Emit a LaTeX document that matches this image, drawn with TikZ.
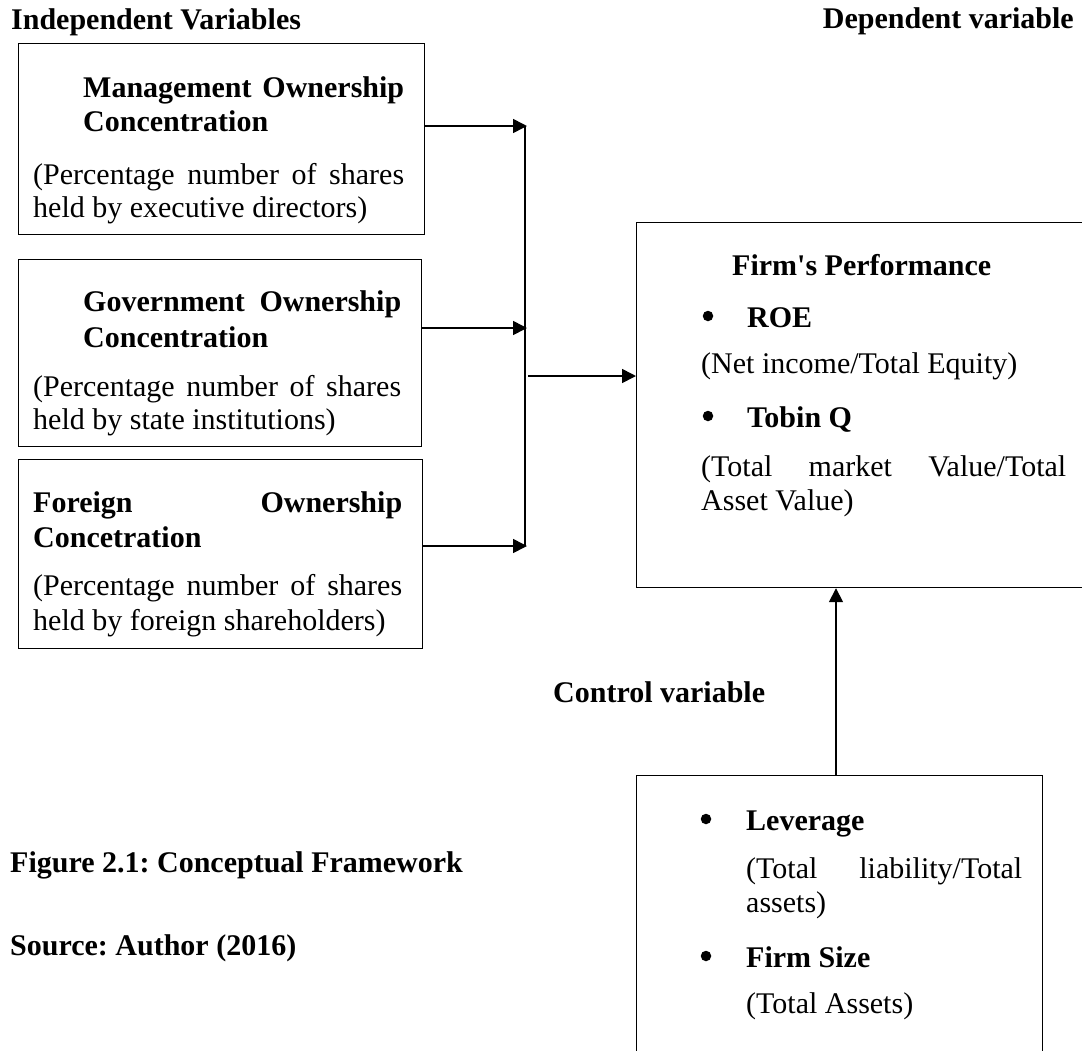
\documentclass[tikz,border=0pt]{standalone}
\usepackage{fontspec}
\setmainfont{Liberation Serif}
\usetikzlibrary{arrows.meta,calc}
\tikzset{
  boxst/.style={draw=black, line width=1.2pt, rectangle, inner sep=0pt, anchor=north west},
  arr/.style={draw=black, line width=1.6pt, -{Triangle[length=14pt,width=14pt]}},
  ln/.style={draw=black, line width=1.6pt},
  txt/.style={anchor=base west, inner sep=0pt, font=\fontsize{30}{34}\selectfont},
  btxt/.style={txt, font=\fontsize{30}{34}\selectfont\bfseries},
  bul/.style={circle, fill=black, inner sep=0pt, minimum size=10.5pt},
}
\begin{document}
\frenchspacing
\begin{tikzpicture}[x=1pt,y=-1pt]
\useasboundingbox (0,0) rectangle (1082,1050);
\clip (0,0) rectangle (1082,1050);
\fill[white] (0,0) rectangle (1082,1050);

% headings
\node[btxt] (indep) at (11,29) {Independent Variables};
\node[btxt, anchor=base east] (dep) at (1074,28) {Dependent variable};
\node[btxt] (ctrlvar) at (553,702) {Control variable};
\node[btxt] (figcap) at (10,872) {Figure 2.1: Conceptual Framework};
\node[btxt] (source) at (10,955) {Source: Author (2016)};

% box 1
\node[boxst, minimum width=406pt, minimum height=191pt] (b1) at (18,43) {};
\node[btxt] (b1h1) at (83,97) {\makebox[321pt][s]{Management Ownership}};
\node[btxt] (b1h2) at (83,131) {Concentration};
\node[txt] (b1p1) at (33,184) {\makebox[371pt][s]{(Percentage number of shares}};
\node[txt] (b1p2) at (33,217) {held by executive directors)};

% box 2
\node[boxst, minimum width=403pt, minimum height=187pt] (b2) at (18,259) {};
\node[btxt] (b2h1) at (83,311) {\makebox[318pt][s]{Government Ownership}};
\node[btxt] (b2h2) at (83,347) {Concentration};
\node[txt] (b2p1) at (33,396) {\makebox[368pt][s]{(Percentage number of shares}};
\node[txt] (b2p2) at (33,429) {held by state institutions)};

% box 3
\node[boxst, minimum width=404pt, minimum height=189pt] (b3) at (18,459) {};
\node[btxt] (b3h1) at (33,512) {\makebox[369pt][s]{Foreign Ownership}};
\node[btxt] (b3h2) at (33,547) {Concetration};
\node[txt] (b3p1) at (33,595) {\makebox[369pt][s]{(Percentage number of shares}};
\node[txt] (b3p2) at (33,630) {held by foreign shareholders)};

% firm performance box
\node[boxst, minimum width=470pt, minimum height=365pt] (firm) at (636,222) {};
\node[btxt] (fp) at (732,275) {Firm\textquotesingle s Performance};
\node[bul] (fb1) at (708,316) {};
\node[btxt] (roe) at (747,327) {ROE};
\node[txt] (roep) at (701,373) {(Net income/Total Equity)};
\node[bul] (fb2) at (708,416) {};
\node[btxt] (tobin) at (747,427) {Tobin Q};
\node[txt] (tobp1) at (701,476) {\makebox[365pt][s]{(Total market Value/Total}};
\node[txt] (tobp2) at (701,510) {Asset Value)};

% control box
\node[boxst, minimum width=406pt, minimum height=320pt] (ctrl) at (636,775) {};
\node[bul] (cb1) at (706,819) {};
\node[btxt] (lev) at (746,830) {Leverage};
\node[txt] (levp1) at (746,878) {\makebox[276pt][s]{(Total liability/Total}};
\node[txt] (levp2) at (746,912) {assets)};
\node[bul] (cb2) at (706,956) {};
\node[btxt] (fsize) at (746,967) {Firm Size};
\node[txt] (fsizep) at (746,1013) {(Total Assets)};

% connectors
\coordinate (j1) at (527,126);
\coordinate (j2) at (527,328);
\coordinate (j3) at (527,546);
\coordinate (v1) at (525,126);
\coordinate (v3) at (525,546);
\coordinate (m0) at (528,376);
\coordinate (c0) at (836,775);

\draw[arr] (j1 -| b1.east) -- (j1);
\draw[arr] (j2 -| b2.east) -- (j2);
\draw[arr] (j3 -| b3.east) -- (j3);
\draw[ln] (v1) -- (v3);
\draw[arr] (m0) -- (m0 -| firm.west);
\draw[arr] (c0) -- (c0 |- firm.south);
\end{tikzpicture}
\end{document}
